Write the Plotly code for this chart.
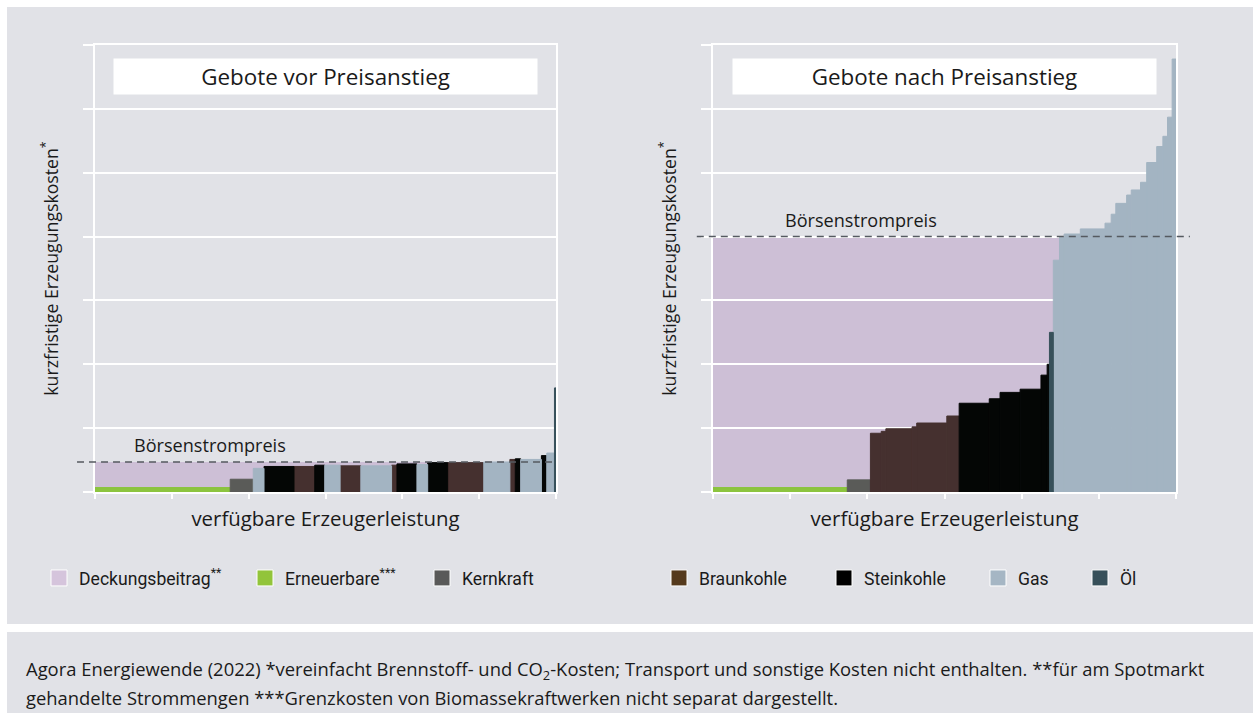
import plotly.graph_objects as go

# ---------------- data ----------------
left_categories = ["Erneuerbare", "Kernkraft", "Gas", "Steinkohle", "Braunkohle", "Steinkohle",
                   "Gas", "Braunkohle", "Gas", "Braunkohle", "Steinkohle", "Gas", "Steinkohle",
                   "Braunkohle", "Gas", "Braunkohle", "Steinkohle", "Gas", "Steinkohle", "Gas", "Öl"]
left_widths = [1.76, 0.30, 0.14, 0.39, 0.27, 0.13, 0.20, 0.27, 0.40, 0.07, 0.26, 0.14, 0.26,
               0.47, 0.34, 0.07, 0.07, 0.27, 0.07, 0.10, 0.02]
left_costs = [0.07, 0.20, 0.37, 0.40, 0.40, 0.42, 0.42, 0.41, 0.41, 0.42, 0.44, 0.43, 0.46,
              0.46, 0.47, 0.51, 0.52, 0.51, 0.57, 0.61, 1.63]
left_price = 0.47

right_categories = (["Erneuerbare", "Kernkraft"] + ["Braunkohle"] * 6 + ["Steinkohle"] * 6
                    + ["Öl"] + ["Gas"] * 15)
right_widths = [1.74, 0.30, 0.14, 0.06, 0.34, 0.06, 0.39, 0.16, 0.39, 0.14, 0.26, 0.27, 0.08,
                0.03, 0.05, 0.08, 0.06, 0.21, 0.32, 0.08, 0.06, 0.14, 0.06, 0.12, 0.08, 0.13,
                0.08, 0.06, 0.06, 0.05]
right_costs = [0.07, 0.19, 0.92, 0.95, 0.99, 1.02, 1.08, 1.19, 1.39, 1.46, 1.56, 1.61, 1.83,
               2.00, 2.50, 3.63, 3.99, 4.04, 4.12, 4.21, 4.35, 4.52, 4.65, 4.73, 4.85, 5.16,
               5.41, 5.57, 5.87, 6.78]
right_price = 4.0

legend_names = ["Deckungsbeitrag", "Erneuerbare", "Kernkraft", "Braunkohle", "Steinkohle", "Gas", "Öl"]
legend_labels = ["Deckungsbeitrag<sup>**</sup>", "Erneuerbare<sup>***</sup>", "Kernkraft",
                 "Braunkohle", "Steinkohle", "Gas", "Öl"]

panel_titles = ["Gebote vor Preisanstieg", "Gebote nach Preisanstieg"]
x_title = "verfügbare Erzeugerleistung"
y_title = "kurzfristige Erzeugungskosten<sup>*</sup>"
price_label = "Börsenstrompreis"
footnote_lines = [
    "Agora Energiewende (2022) *vereinfacht Brennstoff- und CO<sub>2</sub>-Kosten; Transport und sonstige Kosten nicht enthalten. **für am Spotmarkt",
    "gehandelte Strommengen ***Grenzkosten von Biomassekraftwerken nicht separat dargestellt.",
]

# ---------------- styles ----------------
W, H = 1260, 727
BG = "#e1e2e7"
TXT = "#1a1a1a"
FONT = "Open Sans"
LFONT = "Roboto"
PURPLE = "#cdbfd6"
bar_colors = {"Erneuerbare": "#8cc43f", "Kernkraft": "#5a5b58", "Braunkohle": "#45302f",
              "Steinkohle": "#040605", "Gas": "#a3b4c2", "Öl": "#37505a"}
legend_colors = {"Deckungsbeitrag": "#d5c4dc", "Erneuerbare": "#92c43a", "Kernkraft": "#595959",
                 "Braunkohle": "#553a1d", "Steinkohle": "#000000", "Gas": "#a5b6c4", "Öl": "#37505a"}
legend_x_px = [39, 245, 422, 659, 824, 978, 1080]

fig = go.Figure()


def add_blocks(cats, widths, costs, xa, ya):
    lefts = []
    acc = 0.0
    for w in widths:
        lefts.append(acc)
        acc += w
    for cat in ["Erneuerbare", "Kernkraft", "Braunkohle", "Steinkohle", "Gas", "Öl"]:
        idx = [i for i, c in enumerate(cats) if c == cat]
        if not idx:
            continue
        fig.add_trace(go.Bar(
            x=[lefts[i] + widths[i] / 2 for i in idx],
            y=[costs[i] for i in idx],
            width=[widths[i] for i in idx],
            marker=dict(color=bar_colors[cat], line=dict(width=1, color=bar_colors[cat])),
            xaxis=xa, yaxis=ya, showlegend=False, legendgroup=cat, name=cat,
        ))
    return acc


total_left = add_blocks(left_categories, left_widths, left_costs, "x", "y")
total_right = add_blocks(right_categories, right_widths, right_costs, "x2", "y2")

# legend entries
for i, (nm, lab) in enumerate(zip(legend_names, legend_labels)):
    fig.add_trace(go.Scatter(
        x=[None], y=[None], mode="markers", name=lab, legendgroup=nm,
        marker=dict(symbol="square", size=16, color=legend_colors[nm], line=dict(color="white", width=1)),
        legend="legend" if i == 0 else f"legend{i + 1}", xaxis="x", yaxis="y",
    ))

shapes = [
    dict(type="rect", xref="paper", yref="paper", x0=7 / W, x1=1253 / W, y0=1 - 624 / H, y1=1 - 7 / H,
         fillcolor=BG, line=dict(width=0), layer="below"),
    dict(type="rect", xref="paper", yref="paper", x0=7 / W, x1=1253 / W, y0=1 - 713 / H, y1=1 - 632 / H,
         fillcolor=BG, line=dict(width=0), layer="below"),
    # Deckungsbeitrag areas (below gridlines, covered by bars)
    dict(type="rect", xref="x", yref="y", x0=0, x1=total_left, y0=0, y1=left_price,
         fillcolor=PURPLE, line=dict(width=0), layer="below"),
    dict(type="rect", xref="x2", yref="y2", x0=0, x1=total_right, y0=0, y1=right_price,
         fillcolor=PURPLE, line=dict(width=0), layer="below"),
    # price lines
    dict(type="line", xref="x domain", yref="y", x0=-0.039, x1=1.0, y0=left_price, y1=left_price,
         line=dict(color="#555a60", width=1.5, dash="7px,5px")),
    dict(type="line", xref="x2 domain", yref="y2", x0=-0.035, x1=1.03, y0=right_price, y1=right_price,
         line=dict(color="#555a60", width=1.5, dash="7px,5px")),
]

annotations = []
for i, t in enumerate(panel_titles):
    sfx = "" if i == 0 else "2"
    annotations.append(dict(text=t, xref=f"x{sfx} domain", yref=f"y{sfx} domain", x=0.5, y=0.9295,
                            xanchor="center", yanchor="middle", showarrow=False, bgcolor="white",
                            width=423, height=35, borderpad=0, font=dict(size=22.4, color=TXT, family=FONT)))
annotations.append(dict(text=price_label, xref="x domain", yref="y", x=0.08, y=left_price,
                        xanchor="left", yanchor="bottom", yshift=3, showarrow=False,
                        font=dict(size=18.1, color=TXT, family=FONT)))
annotations.append(dict(text=price_label, xref="x2 domain", yref="y2", x=0.151, y=right_price,
                        xanchor="left", yanchor="bottom", yshift=3, showarrow=False,
                        font=dict(size=18.1, color=TXT, family=FONT)))
for j, line in enumerate(footnote_lines):
    annotations.append(dict(text=line, xref="paper", yref="paper", x=24 / W, y=1 - (670 + 27 * j) / H,
                            xanchor="left", yanchor="middle", showarrow=False, align="left",
                            font=dict(size=18.4, color=TXT, family=FONT)))

axis_common = dict(showline=True, linecolor="white", linewidth=2, mirror=True, zeroline=False,
                   ticks="outside", tickcolor="white", tickwidth=2, showticklabels=False,
                   tick0=0, dtick=1, fixedrange=True)
xdom_l = [95 / W, 556 / W]
xdom_r = [713 / W, 1176 / W]
ydom = [1 - 492 / H, 1 - 45 / H]

fig.update_layout(
    width=W, height=H, margin=dict(l=0, r=0, t=0, b=0),
    paper_bgcolor="white", plot_bgcolor="rgba(0,0,0,0)",
    barmode="overlay", font=dict(family=FONT, color=TXT),
    xaxis=dict(domain=xdom_l, range=[0, 6], showgrid=False, ticklen=5, anchor="y",
               title=dict(text=x_title, font=dict(size=20.4, color=TXT), standoff=14), **axis_common),
    yaxis=dict(domain=ydom, range=[0, 7], showgrid=True, gridcolor="white", gridwidth=2, ticklen=10,
               anchor="x", title=dict(text=y_title, font=dict(size=17.7, color=TXT), standoff=20), **axis_common),
    xaxis2=dict(domain=xdom_r, range=[0, 6], showgrid=False, ticklen=5, anchor="y2",
                title=dict(text=x_title, font=dict(size=20.4, color=TXT), standoff=14), **axis_common),
    yaxis2=dict(domain=ydom, range=[0, 7], showgrid=True, gridcolor="white", gridwidth=2, ticklen=10,
                anchor="x2", title=dict(text=y_title, font=dict(size=17.7, color=TXT), standoff=20), **axis_common),
    shapes=shapes, annotations=annotations, showlegend=True,
)

for i in range(7):
    key = "legend" if i == 0 else f"legend{i + 1}"
    fig.update_layout({key: dict(orientation="h", x=legend_x_px[i] / W, xanchor="left",
                                 y=1 - 578 / H, yanchor="middle", bgcolor="rgba(0,0,0,0)",
                                 font=dict(size=17.6, color=TXT, family=LFONT))})

fig.write_html("out.html", config={"displayModeBar": False},
               post_script="document.body.style.margin='0px';")
